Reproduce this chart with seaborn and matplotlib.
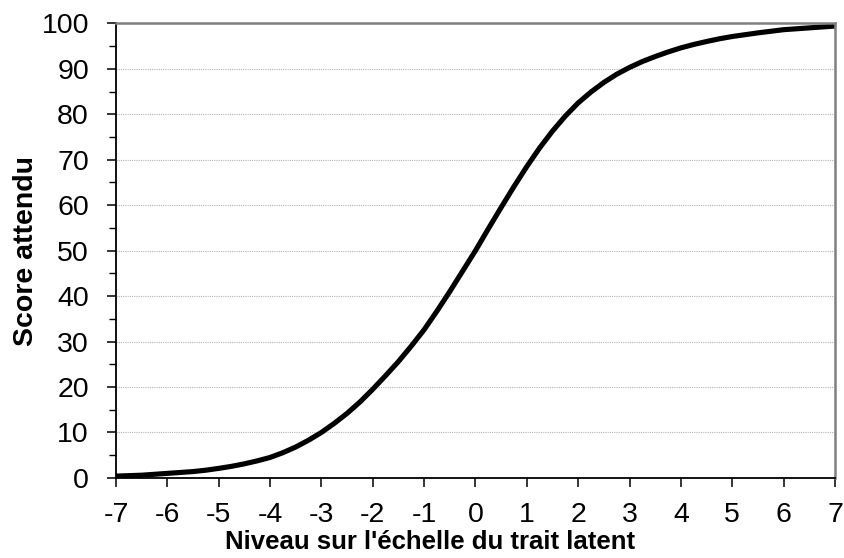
import matplotlib
matplotlib.use("Agg")
import matplotlib.pyplot as plt
import seaborn as sns
import pandas as pd
from matplotlib.ticker import MultipleLocator

sns.set_style("white")
plt.rcParams['font.family'] = ['Liberation Sans', 'DejaVu Sans']
plt.rcParams['axes.unicode_minus'] = False
plt.rcParams['text.color'] = "black"
plt.rcParams['axes.labelcolor'] = "black"
plt.rcParams['xtick.color'] = "black"
plt.rcParams['ytick.color'] = "black"

# values (step 0.25)
niveau = [-7, -6.75, -6.5, -6.25, -6, -5.75, -5.5, -5.25, -5, -4.75, -4.5, -4.25,
          -4, -3.75, -3.5, -3.25, -3, -2.75, -2.5, -2.25, -2, -1.75, -1.5, -1.25,
          -1, -0.75, -0.5, -0.25, 0, 0.25, 0.5, 0.75, 1, 1.25, 1.5, 1.75,
          2, 2.25, 2.5, 2.75, 3, 3.25, 3.5, 3.75, 4, 4.25, 4.5, 4.75,
          5, 5.25, 5.5, 5.75, 6, 6.25, 6.5, 6.75, 7]
score = [0.4, 0.5, 0.6, 0.8, 1.0, 1.2, 1.4, 1.7, 2.1, 2.55, 3.1, 3.75,
         4.5, 5.55, 6.8, 8.3, 10.0, 12.0, 14.2, 16.7, 19.5, 22.5, 25.6, 29.0,
         32.6, 36.7, 41.0, 45.5, 50.0, 54.8, 59.5, 64.1, 68.5, 72.6, 76.3, 79.6,
         82.5, 84.9, 87.0, 88.8, 90.3, 91.6, 92.7, 93.7, 94.6, 95.35, 96.0, 96.6,
         97.1, 97.5, 97.9, 98.25, 98.6, 98.8, 99.0, 99.2, 99.4]
x_ticks = list(range(-7, 8))
y_ticks = list(range(0, 101, 10))

df = pd.DataFrame({"niveau": niveau, "score": score})

fig = plt.figure(figsize=(8.44, 5.58), dpi=100)
ax = fig.add_axes([0.1374, 0.1435, 0.8519, 0.8147])

sns.lineplot(data=df, x="niveau", y="score", color="black", linewidth=3.7, ax=ax)
ax.lines[0].set_solid_joinstyle("round")
ax.lines[0].set_solid_capstyle("round")

ax.set_xlim(-7, 7)
ax.set_ylim(0, 100)
ax.set_xticks(x_ticks)
ax.set_yticks(y_ticks)
ax.yaxis.set_minor_locator(MultipleLocator(5))

ax.grid(axis="y", which="major", color="#b4b4b4", linestyle=(0, (1, 1)), linewidth=0.8)
ax.set_axisbelow(True)

for side in ["left", "bottom"]:
    ax.spines[side].set_color("black")
    ax.spines[side].set_linewidth(1.3)
for side in ["top", "right"]:
    ax.spines[side].set_color("#808080")
    ax.spines[side].set_linewidth(1.8)

ax.tick_params(axis="both", which="major", direction="out", length=6.5, width=1.1,
               color="black", labelsize=20.5)
ax.tick_params(axis="x", which="major", pad=10.5)
ax.tick_params(axis="y", which="major", pad=13)
ax.tick_params(axis="y", which="minor", direction="out", length=5, width=1.0, color="black")
ax.tick_params(bottom=True, left=True, top=False, right=False)
ax.tick_params(axis="y", which="minor", left=True)

ax.set_xlabel("Niveau sur l'échelle du trait latent", fontsize=18.5, fontweight="bold")
ax.set_ylabel("Score attendu", fontsize=20.5, fontweight="bold")
ax.xaxis.set_label_coords(0.437, -0.114)
ax.yaxis.set_label_coords(-0.107, 0.5)

plt.savefig("out.png", dpi=100)
